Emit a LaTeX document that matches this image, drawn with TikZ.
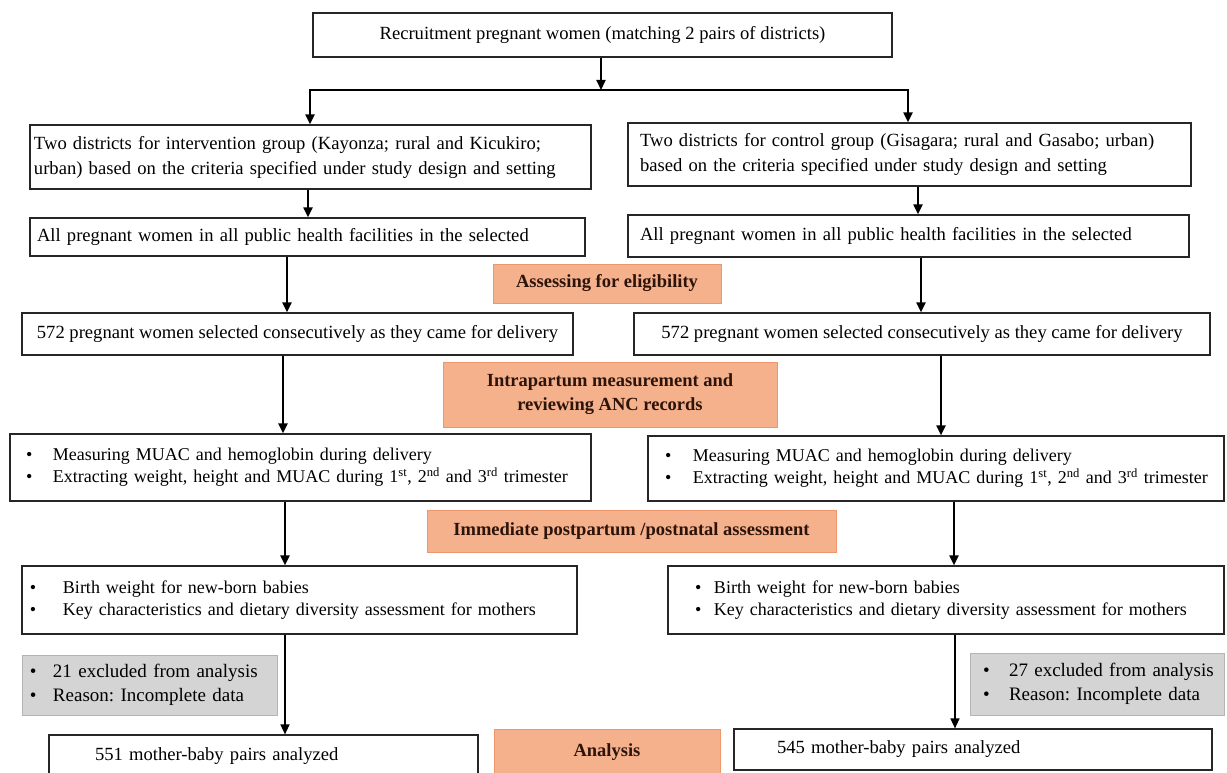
\documentclass[tikz,border=0pt]{standalone}
\usepackage{fontspec}
\setmainfont{Liberation Serif}
\usetikzlibrary{arrows.meta}
\definecolor{orng}{RGB}{245,176,140}
\definecolor{orngd}{RGB}{236,150,110}
\definecolor{gry}{RGB}{212,212,212}
\definecolor{gryd}{RGB}{180,180,180}
\definecolor{txtd}{RGB}{45,20,10}
\newcommand{\bl}[3]{\hspace*{#1pt}\makebox[#2pt][l]{\textbullet}\mbox{#3}}
\frenchspacing
\begin{document}
\begin{tikzpicture}[x=1pt,y=-1pt,
  box/.style={draw=black!85, line width=1.2pt, fill=white, inner sep=0pt, font=\fontsize{18.6}{22}\selectfont},
  blist/.style={box, font=\fontsize{18}{22}\selectfont},
  stage/.style={draw=orngd, fill=orng, line width=0.8pt, inner sep=0pt, align=center, text=txtd, font=\fontsize{18.5}{24}\selectfont\bfseries},
  excl/.style={draw=gryd, fill=gry, line width=0.8pt, inner sep=0pt, align=left, font=\fontsize{19}{24}\selectfont},
  arr/.style={line width=2pt, -{Triangle[length=10pt,width=9pt]}},
  arrthin/.style={line width=1.4pt, -{Triangle[length=10pt,width=9pt]}},
]
\fill[white] (0,0) rectangle (1227,773);
\clip (0,0) rectangle (1227,773);

% top
\node[box, minimum width=579, minimum height=44] (top) at (602.5,35) {Recruitment pregnant women (matching 2 pairs of districts)};
\coordinate (jc) at (601,90);
\coordinate (jl) at (310,90);
\coordinate (jr) at (908,90);

% row 1
\node[box, text width=553, inner xsep=4pt, minimum height=64, align=left, font=\fontsize{18.6}{25}\selectfont] (l1) at (310.5,157)
  {Two districts for intervention group (Kayonza; rural and Kicukiro;\\urban) based on the criteria specified under study design and setting};
\node[box, text width=539, inner xsep=12pt, minimum height=63, align=left, font=\fontsize{18.6}{25}\selectfont] (r1) at (909.5,154.5)
  {Two districts for control group (Gisagara; rural and Gasabo; urban)\\based on the criteria specified under study design and setting};

% row 2
\node[box, text width=541, inner xsep=7pt, minimum height=38, align=left] (l2) at (307.5,237)
  {All pregnant women in all public health facilities in the selected};
\node[box, text width=537, inner xsep=12pt, minimum height=42, align=left] (r2) at (908.5,236)
  {All pregnant women in all public health facilities in the selected};

% row 3
\node[box, minimum width=551, minimum height=42] (l3) at (297.5,334)
  {572 pregnant women selected consecutively as they came for delivery};
\node[box, minimum width=576, minimum height=42] (r3) at (922,334)
  {572 pregnant women selected consecutively as they came for delivery};

% row 4
\node[blist, text width=581, minimum height=67, align=left] (l4) at (300.5,467.5)
  {\bl{16}{27}{Measuring MUAC and hemoglobin during delivery}\\
   \bl{16}{27}{Extracting weight, height and MUAC during 1\textsuperscript{st}, 2\textsuperscript{nd} and 3\textsuperscript{rd} trimester}};
\node[blist, text width=576, minimum height=65, align=left] (r4) at (936,468.5)
  {\bl{17}{28}{Measuring MUAC and hemoglobin during delivery}\\
   \bl{17}{28}{Extracting weight, height and MUAC during 1\textsuperscript{st}, 2\textsuperscript{nd} and 3\textsuperscript{rd} trimester}};

% row 5
\node[blist, text width=555, minimum height=68, align=left] (l5) at (299.5,600)
  {\bl{8}{33}{Birth weight for new-born babies}\\
   \bl{8}{33}{Key characteristics and dietary diversity assessment for mothers}};
\node[blist, text width=556, minimum height=68, align=left] (r5) at (946,600)
  {\bl{27}{19}{Birth weight for new-born babies}\\
   \bl{27}{19}{Key characteristics and dietary diversity assessment for mothers}};

% excluded
\node[excl, text width=255, minimum height=60] (lg) at (149.5,685)
  {\bl{8}{23}{21 excluded from analysis}\\
   \bl{8}{23}{Reason: Incomplete data}};
\node[excl, text width=254, minimum height=62] (rg) at (1097,684)
  {\bl{13}{26}{27 excluded from analysis}\\
   \bl{13}{26}{Reason: Incomplete data}};

% row 6
\node[box, text width=429, minimum height=42, align=left] (l6) at (263.5,756)
  {\hspace*{46pt}551 mother-baby pairs analyzed};
\node[box, text width=478, minimum height=41, align=left] (r6) at (973,749.5)
  {\hspace*{43pt}545 mother-baby pairs analyzed};

% stages
\node[stage, minimum width=228, minimum height=39] (elig) at (607,283.5) {Assessing for eligibility};
\node[stage, minimum width=334, minimum height=65] (intra) at (610,394.5) {Intrapartum measurement and\\reviewing ANC records};
\node[stage, minimum width=409, minimum height=42] (post) at (631.5,531) {Immediate postpartum /postnatal assessment};
\node[stage, minimum width=226, minimum height=46] (anal) at (607,752) {Analysis};

% connectors
\draw[arr] (top.south -| jc) -- (jc);
\draw[arr] (jc) -- (jl) -- (jl |- l1.north);
\draw[arr] (jc) -- (jr) -- (jr |- r1.north);
\draw[arr] (308,0 |- l1.south) -- (308,0 |- l2.north);
\draw[arr] (918,0 |- r1.south) -- (918,0 |- r2.north);
\draw[arr] (287,0 |- l2.south) -- (287,0 |- l3.north);
\draw[arr] (921,0 |- r2.south) -- (921,0 |- r3.north);
\draw[arr] (283,0 |- l3.south) -- (283,0 |- l4.north);
\draw[arr] (941,0 |- r3.south) -- (941,0 |- r4.north);
\draw[arr] (285,0 |- l4.south) -- (285,0 |- l5.north);
\draw[arr] (954,0 |- r4.south) -- (954,0 |- r5.north);
\draw[arrthin] (285,0 |- l5.south) -- (285,0 |- l6.north);
\draw[arrthin] (955,0 |- r5.south) -- (955,0 |- r6.north);
\end{tikzpicture}
\end{document}
